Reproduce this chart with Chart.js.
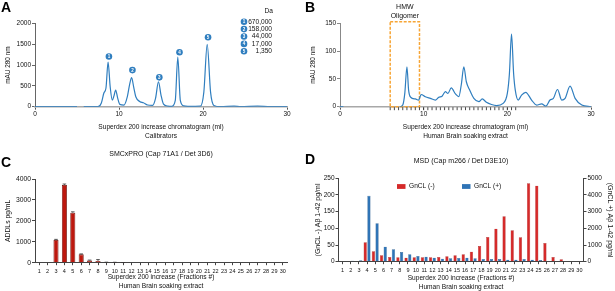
<!DOCTYPE html>
<html>
<head>
<meta charset="utf-8">
<script src="https://cdn.jsdelivr.net/npm/chart.js@4.4.1/dist/chart.umd.min.js"></script>
<style>
  html, body { margin: 0; padding: 0; background: #fff; }
  #wrap { position: relative; width: 615px; height: 291px; overflow: hidden; font-family: "Liberation Sans", Arial, sans-serif; }
  canvas { position: absolute; }
  .tag { position: absolute; font-weight: bold; font-size: 14px; line-height: 14px; color: #000; }
</style>
</head>
<body>
<div id="wrap">
  <canvas id="chA" width="305" height="145" style="left:0;top:0"></canvas>
  <canvas id="chB" width="310" height="145" style="left:305px;top:0"></canvas>
  <canvas id="chC" width="305" height="146" style="left:0;top:145px"></canvas>
  <canvas id="chD" width="310" height="146" style="left:305px;top:145px"></canvas>
  <div class="tag" style="left:1px;top:0">A</div>
  <div class="tag" style="left:305px;top:0">B</div>
  <div class="tag" style="left:1px;top:155px">C</div>
  <div class="tag" style="left:305px;top:152px">D</div>
</div>
<script>
// --- A: calibrators chromatogram (ml vs mAU 280 nm)
const volA = [0, 5.0, 5.05, 5.8, 7.5, 7.9, 8.2, 8.45, 8.7, 8.95, 9.2, 9.4, 9.6, 9.85, 10.1, 10.6, 11.0, 11.25, 11.5, 11.75,
  12.0, 12.5, 12.9, 13.4, 14.0, 14.35, 14.7, 15.0, 15.3, 15.8, 16.3, 16.7, 17.0, 17.3, 17.7, 18.2, 19.7, 20.1, 20.5, 20.9,
  21.3, 22.1, 23.7, 24.5, 26.5, 28, 30];
const mauA = [0, 0, null, 0, 0, 90, 330, 450, 1070, 480, 160, 260, 400, 200, 55, 40, 250, 520, 700, 470,
  240, 120, 95, 40, 30, 200, 600, 280, 60, 15, 10, 150, 1190, 150, 20, 10, 15, 350, 1500, 350,
  30, 0, 15, 0, 15, 0, 0];
// numbered calibrator badges
const stdMl = [8.8, 11.6, 14.8, 17.2, 20.6];
const stdMau = [1205, 880, 705, 1310, 1670];
const stdIds = ['1', '2', '3', '4', '5'];
const stdDa = ['670,000', '158,000', '44,000', '17,000', '1,350'];

// --- B: human brain soaking extract chromatogram
const volB = [0, 0.4, 0.5, 7.2, 7.5, 7.75, 8.0, 8.2, 8.45, 9.0, 9.4, 9.7, 10.2, 10.8, 11.4, 11.8, 12.2, 12.6, 12.9, 13.3,
  13.8, 14.2, 14.5, 14.8, 15.1, 15.5, 16.0, 16.6, 17.0, 17.5, 18.1, 18.7, 19.5, 20.0, 20.25, 20.5, 20.75, 20.95, 21.3, 21.7,
  22.2, 22.9, 23.5, 24.1, 24.6, 25.1, 25.5, 26.0, 26.5, 26.9, 27.5, 28.1, 28.9, 30];
const mauB = [0, 0, null, 0, 3, 25, 72, 30, 17, 14, 12, 22, 18, 15, 12, 17, 19, 27, 24, 34,
  23, 18, 40, 72, 45, 30, 15, 9, 14, 8, 4, 2, 6, 24, 60, 131, 60, 30, 12, 21,
  26, 12, 3, 5, 1, 12, 15, 31, 12, 15, 37, 15, 3, 0];
const hmwRange = [6, 9.5];
const hmwTop = 153;
const fracStart = 6, fracWidth = 0.5, fracCount = 30;

// --- C / D: fractions
const fractions = ['1','2','3','4','5','6','7','8','9','10','11','12','13','14','15',
  '16','17','18','19','20','21','22','23','24','25','26','27','28','29','30'];
const addls = [0, 0, 1085, 3715, 2390, 400, 110, 80, 20, 15, 5, 0, 0, 0, 0,
  0, 0, 0, 0, 0, 0, 0, 0, 0, 0, 0, 0, 0, 0, 0];
const addlsErr = [0, 0, 30, 45, 40, 20, 15, 70, 5, 5, 3, 0, 0, 0, 0,
  0, 0, 0, 0, 0, 0, 0, 0, 0, 0, 0, 0, 0, 0, 0];
const gnclNeg = [0, 0, 1, 58, 31, 19, 14, 13, 12, 13, 13, 13, 14, 16, 19,
  22, 30, 47, 74, 99, 136, 94, 73, 235, 228, 56, 14, 7, 1, 0];
const gnclPos = [0, 60, 80, 3950, 2300, 900, 740, 580, 440, 340, 300, 240, 180, 200, 220,
  240, 200, 160, 160, 160, 120, 120, 160, 120, 100, 40, 10, 30, 20, 0];

const blue = '#2f7ebf';
const FONT = '"Liberation Sans", Arial, sans-serif';
const INK = '#111';
Chart.defaults.font.family = FONT;
Chart.defaults.font.size = 7;
Chart.defaults.color = INK;

const plain = v => String(v);

function axis(color, extra) {
  return Object.assign({
    border: { display: true, color: color, width: 1 },
    grid: { display: true, drawOnChartArea: false, drawTicks: true, tickLength: 3, color: color },
    ticks: { color: INK, padding: 1, font: { size: 6.5 }, callback: plain }
  }, extra);
}

// badges on peaks + Da key
const stdBadges = {
  id: 'stdBadges',
  afterDatasetsDraw(chart) {
    const { ctx, chartArea } = chart;
    const pts = chart.getDatasetMeta(1).data;
    ctx.save();
    ctx.textAlign = 'center';
    ctx.textBaseline = 'middle';
    ctx.fillStyle = '#fff';
    ctx.font = 'bold 4.5px ' + FONT;
    pts.forEach((p, i) => ctx.fillText(stdIds[i], p.x, p.y + 0.3));
    const cx = chartArea.right - 43, tx = chartArea.right - 15;
    ctx.font = '6.6px ' + FONT;
    ctx.fillStyle = INK;
    ctx.textAlign = 'right';
    ctx.fillText('Da', chartArea.right - 14, chartArea.top - 12);
    stdDa.forEach((t, i) => {
      const y = chartArea.top - 1.8 + i * 7.4;
      ctx.beginPath();
      ctx.arc(cx, y, 3.3, 0, Math.PI * 2);
      ctx.fillStyle = blue;
      ctx.fill();
      ctx.fillStyle = '#fff';
      ctx.textAlign = 'center';
      ctx.font = 'bold 4.5px ' + FONT;
      ctx.fillText(stdIds[i], cx, y + 0.3);
      ctx.fillStyle = INK;
      ctx.textAlign = 'right';
      ctx.font = '6.6px ' + FONT;
      ctx.fillText(t, tx, y);
    });
    ctx.restore();
  }
};

new Chart(document.getElementById('chA'), {
  type: 'line',
  data: {
    datasets: [
      {
        label: 'Calibrators',
        data: volA.map((v, i) => ({ x: v, y: mauA[i] })),
        borderColor: blue, borderWidth: 1.2, pointRadius: 0,
        cubicInterpolationMode: 'monotone', spanGaps: false
      },
      {
        label: 'Standards',
        data: stdMl.map((v, i) => ({ x: v, y: stdMau[i] })),
        showLine: false, pointRadius: 3.3, backgroundColor: blue, borderColor: blue, borderWidth: 0
      }
    ]
  },
  options: {
    responsive: false, animation: false,
    layout: { padding: { left: 0, right: 18, top: 23.5, bottom: 0 } },
    plugins: { legend: { display: false }, tooltip: { enabled: false } },
    scales: {
      x: axis('#555', {
        type: 'linear', min: 0, max: 30,
        border: { display: true, color: '#a8a8a8', width: 1.5 },
        ticks: { stepSize: 10, color: INK, padding: 1, font: { size: 6.5 }, callback: plain },
        title: { display: true, text: ['Superdex 200 increase chromatogram (ml)', 'Calibrators'], font: { size: 6.6, lineHeight: 1.3 }, padding: { top: 0, bottom: 5 } },
        afterFit(s) { s.height = 38.3; }
      }),
      y: axis('#666', {
        min: 0, max: 2000,
        ticks: { stepSize: 500, color: INK, padding: 1, font: { size: 6.5 }, callback: plain },
        title: { display: true, text: 'mAU 280 nm', font: { size: 6.4, lineHeight: 1.3 }, padding: { top: 4, bottom: 0 } },
        afterFit(s) { s.width = 35; }
      })
    }
  },
  plugins: [stdBadges]
});

// HMW box, fraction ticks
const hmwBox = {
  id: 'hmwBox',
  beforeDatasetsDraw(chart) {
    const { ctx, scales: { x, y } } = chart;
    const x1 = x.getPixelForValue(hmwRange[0]), x2 = x.getPixelForValue(hmwRange[1]);
    const y1 = y.getPixelForValue(hmwTop), y2 = y.getPixelForValue(0);
    ctx.save();
    ctx.strokeStyle = '#f7a535';
    ctx.lineWidth = 1.5;
    ctx.setLineDash([3, 1.5]);
    ctx.strokeRect(x1, y1, x2 - x1, y2 - y1);
    ctx.restore();
  },
  afterDraw(chart) {
    const { ctx, scales: { x, y } } = chart;
    const x1 = x.getPixelForValue(hmwRange[0]), x2 = x.getPixelForValue(hmwRange[1]);
    const y1 = y.getPixelForValue(hmwTop), y0 = y.getPixelForValue(0);
    ctx.save();
    ctx.strokeStyle = '#333';
    ctx.lineWidth = 0.9;
    for (let i = 0; i <= fracCount; i++) {
      const px = x.getPixelForValue(fracStart + i * fracWidth);
      ctx.beginPath();
      ctx.moveTo(px, y0 + 0.5);
      ctx.lineTo(px, y0 + 3.5);
      ctx.stroke();
    }
    ctx.fillStyle = INK;
    ctx.font = '7px ' + FONT;
    ctx.textAlign = 'center';
    ctx.textBaseline = 'middle';
    ctx.fillText('HMW', (x1 + x2) / 2, y1 - 14.5);
    ctx.fillText('Oligomer', (x1 + x2) / 2, y1 - 6.2);
    ctx.restore();
  }
};

new Chart(document.getElementById('chB'), {
  type: 'line',
  data: {
    datasets: [{
      label: 'Human Brain soaking extract',
      data: volB.map((v, i) => ({ x: v, y: mauB[i] })),
      borderColor: blue, borderWidth: 1.2, pointRadius: 0,
      cubicInterpolationMode: 'monotone', spanGaps: false
    }]
  },
  options: {
    responsive: false, animation: false,
    layout: { padding: { left: 0, right: 24, top: 23.5, bottom: 0 } },
    plugins: { legend: { display: false }, tooltip: { enabled: false } },
    scales: {
      x: axis('#555', {
        type: 'linear', min: 0, max: 30,
        border: { display: true, color: '#a8a8a8', width: 1.5 },
        ticks: { stepSize: 10, color: INK, padding: 1, font: { size: 6.5 }, callback: plain },
        title: { display: true, text: ['Superdex 200 increase chromatogram (ml)', 'Human Brain soaking extract'], font: { size: 6.6, lineHeight: 1.3 }, padding: { top: 0, bottom: 5 } },
        afterFit(s) { s.height = 38.3; }
      }),
      y: axis('#888', {
        min: 0, max: 150,
        ticks: { stepSize: 50, color: INK, padding: 1, font: { size: 6.5 }, callback: plain },
        title: { display: true, text: 'mAU 280 nm', font: { size: 6.4, lineHeight: 1.3 }, padding: { top: 4, bottom: 0 } },
        afterFit(s) { s.width = 35; }
      })
    }
  },
  plugins: [hmwBox]
});

// error whiskers for panel C
const errBars = {
  id: 'errBars',
  afterDatasetsDraw(chart) {
    const { ctx, scales: { y } } = chart;
    const meta = chart.getDatasetMeta(0);
    ctx.save();
    ctx.strokeStyle = '#333';
    ctx.lineWidth = 0.8;
    meta.data.forEach((bar, i) => {
      const e = addlsErr[i];
      if (!e) return;
      const yTop = y.getPixelForValue(addls[i] + e);
      ctx.beginPath();
      ctx.moveTo(bar.x, bar.y);
      ctx.lineTo(bar.x, yTop);
      ctx.moveTo(bar.x - 1.8, yTop);
      ctx.lineTo(bar.x + 1.8, yTop);
      ctx.stroke();
    });
    ctx.restore();
  }
};

new Chart(document.getElementById('chC'), {
  type: 'bar',
  data: {
    labels: fractions,
    datasets: [{
      label: 'ADDLs',
      data: addls,
      backgroundColor: '#bd180e', borderColor: '#6a0b05', borderWidth: 0.8,
      categoryPercentage: 0.8, barPercentage: 0.75
    }]
  },
  options: {
    responsive: false, animation: false,
    layout: { padding: { left: 0, right: 18, top: 0, bottom: 0 } },
    plugins: {
      legend: { display: false }, tooltip: { enabled: false },
      title: { display: true, text: 'SMCxPRO (Cap 71A1 / Det 3D6)', fullSize: false, color: INK, font: { size: 7, weight: 'normal', lineHeight: 1.2 }, padding: { top: 4.8, bottom: 20.8 } }
    },
    scales: {
      x: axis('#444', {
        offset: true,
        grid: { display: true, offset: false, drawOnChartArea: false, tickLength: 2.5, color: '#444' },
        ticks: { color: INK, padding: 2.5, font: { size: 5.5 }, autoSkip: false, maxRotation: 0 },
        title: { display: true, text: ['Superdex 200 increase (Fractions #)', 'Human Brain soaking extract'], font: { size: 6.6, lineHeight: 1.25 }, padding: { top: 0, bottom: 1 } },
        afterFit(s) { s.height = 28.3; }
      }),
      y: axis('#444', {
        min: 0, max: 4000,
        ticks: { stepSize: 1000, color: INK, padding: 1, font: { size: 6.8 }, callback: plain },
        title: { display: true, text: 'ADDLs pg/mL', font: { size: 6.8, lineHeight: 1.3 }, padding: { top: 3.5, bottom: 0 } },
        afterFit(s) { s.width = 35; }
      })
    }
  },
  plugins: [errBars]
});

// legend drawn inside the plot for panel D
const insideLegend = {
  id: 'insideLegend',
  afterDraw(chart) {
    const { ctx, chartArea } = chart;
    ctx.save();
    ctx.font = '6.6px ' + FONT;
    ctx.textBaseline = 'middle';
    ctx.textAlign = 'left';
    chart.data.datasets.forEach((ds, i) => {
      const bx = chartArea.left + 58.5 + i * 65, by = chartArea.top + 8.2;
      ctx.fillStyle = ds.backgroundColor;
      ctx.fillRect(bx, by - 2.4, 8.5, 4.8);
      ctx.fillStyle = INK;
      ctx.fillText(ds.label, bx + 12, by);
    });
    ctx.restore();
  }
};

new Chart(document.getElementById('chD'), {
  type: 'bar',
  data: {
    labels: fractions,
    datasets: [
      {
        label: 'GnCL (-)', data: gnclNeg, yAxisID: 'y',
        backgroundColor: '#d52a2a', borderColor: '#9c1515', borderWidth: 0.4,
        categoryPercentage: 0.9, barPercentage: 0.88
      },
      {
        label: 'GnCL (+)', data: gnclPos, yAxisID: 'y2',
        backgroundColor: '#2f74b6', borderColor: '#1d4f80', borderWidth: 0.4,
        categoryPercentage: 0.9, barPercentage: 0.88
      }
    ]
  },
  options: {
    responsive: false, animation: false,
    layout: { padding: { left: 0, right: 0, top: 0, bottom: 0 } },
    plugins: {
      legend: { display: false }, tooltip: { enabled: false },
      title: { display: true, text: 'MSD (Cap m266 / Det D3E10)', fullSize: false, color: INK, font: { size: 7, weight: 'normal', lineHeight: 1.2 }, padding: { top: 12.1, bottom: 12.8 } }
    },
    scales: {
      x: axis('#444', {
        offset: true,
        grid: { display: true, offset: false, drawOnChartArea: false, tickLength: 2.5, color: '#444' },
        ticks: { color: INK, padding: 2.5, font: { size: 5.5 }, autoSkip: false, maxRotation: 0 },
        title: { display: true, text: ['Superdex 200 increase (Fractions #)', 'Human Brain soaking extract'], font: { size: 6.6, lineHeight: 1.3 }, padding: { top: 0, bottom: 0 } },
        afterFit(s) { s.height = 29.3; }
      }),
      y: axis('#444', {
        position: 'left', min: 0, max: 250,
        ticks: { stepSize: 50, color: INK, padding: 1, font: { size: 6.5 }, callback: plain },
        title: { display: true, text: '(GnCL -) Aβ 1-42 pg/ml', font: { size: 7, lineHeight: 1.2 }, padding: { top: 8.8, bottom: 0 } },
        afterFit(s) { s.width = 33.5; }
      }),
      y2: axis('#444', {
        position: 'right', min: 0, max: 5000,
        ticks: { stepSize: 1000, color: INK, padding: 1, font: { size: 6.5 }, callback: plain },
        title: { display: true, text: '(GnCL +) Aβ 1-42 pg/ml', font: { size: 7, lineHeight: 1.2 }, padding: { top: 0.8, bottom: 0 } },
        afterFit(s) { s.width = 31.5; }
      })
    }
  },
  plugins: [insideLegend]
});
</script>
</body>
</html>
